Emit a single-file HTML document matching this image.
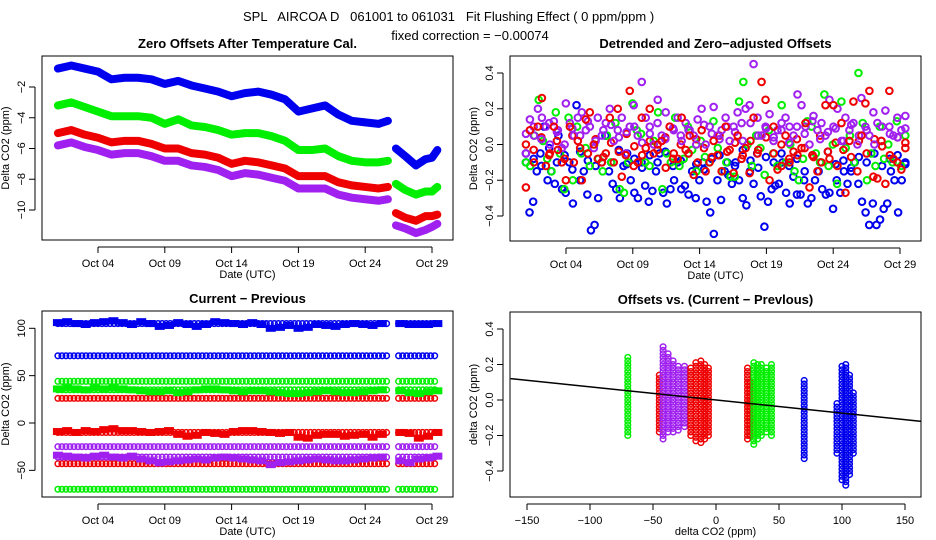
<!DOCTYPE html>
<html><head><meta charset="utf-8"><style>
html,body{margin:0;padding:0;background:#fff;}
svg{display:block;font-family:"Liberation Sans",sans-serif;}
text{white-space:pre;}
</style></head><body>
<svg id="chart" width="936" height="540" xmlns="http://www.w3.org/2000/svg">
<rect width="936" height="540" fill="#fff"/>
<text x="243" y="21" font-size="13" xml:space="preserve">SPL   AIRCOA D   061001 to 061031   Fit Flushing Effect ( 0 ppm/ppm )</text>
<text x="470" y="40" font-size="13" text-anchor="middle">fixed correction = −0.00074</text>
<g id="plots"></g>
</svg>
<script>
// ---------- DATA ----------
const days1 = [1,2,3,4,5,6,7,8,9,10,11,12,13,14,15,16,17,18,19,20,21,22,23,24,25,25.7];
const days2 = [26.3,27,27.8,28.5,29,29.4];
const blueTrend1 = [-0.8,-0.6,-0.8,-1.0,-1.5,-1.4,-1.4,-1.5,-1.8,-1.6,-1.9,-2.1,-2.3,-2.6,-2.4,-2.3,-2.5,-2.8,-3.6,-3.4,-3.2,-3.8,-4.2,-4.3,-4.4,-4.2];
const blueTrend2 = [-6.0,-6.5,-7.1,-6.7,-6.6,-6.1];
const greenTrend1 = [-3.2,-3.0,-3.3,-3.6,-3.9,-3.9,-3.9,-4.0,-4.4,-4.1,-4.5,-4.6,-4.8,-5.1,-5.0,-5.0,-5.2,-5.5,-6.1,-6.1,-6.0,-6.5,-6.8,-6.9,-6.9,-6.8];
const greenTrend2 = [-8.3,-8.7,-9.0,-8.8,-8.8,-8.5];
const redTrend1 = [-5.0,-4.8,-5.1,-5.3,-5.6,-5.5,-5.5,-5.7,-6.0,-6.0,-6.3,-6.4,-6.6,-7.0,-6.8,-6.9,-7.1,-7.3,-7.8,-7.8,-7.8,-8.2,-8.4,-8.5,-8.6,-8.5];
const redTrend2 = [-10.2,-10.5,-10.7,-10.4,-10.4,-10.3];
const purpleTrend1 = [-5.8,-5.6,-5.9,-6.1,-6.4,-6.3,-6.3,-6.5,-6.8,-6.8,-7.1,-7.2,-7.4,-7.8,-7.6,-7.7,-7.9,-8.1,-8.6,-8.6,-8.6,-9.0,-9.2,-9.3,-9.4,-9.3];
const purpleTrend2 = [-11.0,-11.2,-11.5,-11.3,-11.1,-10.9];

const detBlue = [-0.1,-0.38,-0.32,-0.15,-0.05,0.1,-0.2,-0.15,-0.22,0.05,-0.25,-0.27,-0.1,-0.33,0.22,-0.2,-0.15,-0.28,-0.48,-0.45,-0.3,-0.1,0.05,-0.15,-0.22,-0.25,-0.3,-0.12,-0.05,-0.2,-0.27,-0.3,-0.1,-0.23,-0.32,-0.26,-0.15,-0.05,-0.27,-0.33,-0.25,-0.2,-0.1,-0.25,-0.23,-0.28,-0.15,-0.3,-0.2,-0.1,-0.32,-0.38,-0.5,-0.2,-0.31,-0.15,-0.17,-0.22,-0.1,-0.2,-0.3,-0.34,-0.15,-0.22,-0.05,-0.29,-0.46,-0.32,-0.25,-0.23,-0.22,-0.1,-0.27,-0.33,-0.18,-0.28,-0.28,-0.2,-0.33,-0.3,-0.2,-0.15,-0.25,-0.28,-0.27,-0.36,-0.2,-0.27,-0.15,-0.22,-0.15,-0.1,-0.22,-0.32,-0.38,-0.45,-0.33,-0.45,-0.42,-0.36,-0.33,-0.15,-0.2,-0.38,-0.2,-0.1];
const detBlue2 = [-0.05,-0.08,-0.12,-0.02,-0.1,-0.06,-0.14,-0.04,-0.09,-0.12,-0.07,-0.1,-0.03,-0.11,-0.08,-0.13,-0.06,-0.1,-0.04,-0.12,-0.09,-0.05,-0.11,-0.14,-0.08,-0.06,-0.1,-0.12,-0.03,-0.09,-0.13,-0.07,-0.1,-0.05,-0.12,-0.08,-0.15,-0.06,-0.1,-0.04,-0.11,-0.09,-0.13,-0.07,-0.1,-0.05,-0.12,-0.08,-0.06,-0.11];
const detGreen = [-0.1,-0.12,0.05,0.25,0.02,-0.08,-0.15,0.18,-0.05,-0.25,0.15,-0.2,0.1,-0.05,-0.02,-0.12,0.0,-0.08,-0.15,0.05,-0.1,0.12,-0.25,-0.27,-0.1,0.23,0.08,0.06,-0.1,-0.12,0.02,0.18,-0.25,-0.05,-0.1,0.15,-0.12,-0.08,0.1,-0.03,-0.15,0.02,-0.07,-0.1,0.13,-0.02,-0.15,-0.1,-0.18,-0.18,0.24,0.35,0.0,-0.12,0.05,-0.02,-0.17,0.08,-0.05,-0.12,0.22,-0.1,0.0,-0.15,-0.2,-0.08,0.13,0.1,-0.05,-0.1,0.28,-0.12,0.0,-0.22,0.24,-0.02,0.05,-0.1,0.4,0.12,-0.2,-0.05,-0.12,0.1,-0.08,0.0,-0.1,0.13,-0.12,0.05];
const detRed = [-0.24,0.08,-0.1,0.1,0.26,-0.12,-0.05,0.1,-0.03,-0.1,-0.2,0.1,-0.1,0.02,-0.2,0.14,0.18,0.0,-0.08,-0.1,-0.05,0.15,-0.1,0.2,-0.18,-0.06,0.3,-0.12,-0.1,0.15,-0.02,0.2,-0.05,0.0,0.02,-0.13,0.1,-0.05,-0.08,0.15,-0.03,0.05,-0.17,-0.1,0.08,-0.15,-0.1,0.02,-0.06,-0.15,0.1,-0.03,-0.16,0.05,-0.08,-0.02,-0.16,0.15,-0.05,0.35,0.25,-0.2,0.1,-0.14,-0.12,0.05,-0.1,-0.04,-0.06,-0.02,0.12,-0.24,-0.07,-0.15,-0.1,0.22,-0.08,0.22,-0.12,0.12,-0.27,0.02,0.24,-0.15,0.05,0.23,0.3,-0.18,-0.19,0.02,-0.22,0.3,-0.08,-0.1,-0.14,0.01];
const detRed2 = [0.0,-0.03,0.04,-0.06,0.02,-0.08,0.05,-0.02,-0.05,0.03,-0.07,0.01,-0.04,0.06,-0.01,-0.06,0.02,-0.03,0.04,-0.08,0.0,-0.05,0.03,-0.02,-0.07,0.05,-0.04,0.01,-0.06,0.02,-0.03,0.04,-0.05,0.0,-0.08,0.03,-0.02,-0.06,0.05,-0.04,0.01,-0.03,-0.07,0.02,-0.05,0.03,-0.01,-0.06,0.04,-0.02];
const detPurple = [-0.05,0.14,0.05,0.2,0.15,0.1,0.0,0.13,0.08,-0.02,0.23,0.12,0.05,0.15,0.18,0.08,0.1,-0.02,0.15,0.05,0.12,0.2,0.02,0.08,0.15,-0.05,0.1,0.22,0.05,0.35,0.15,0.1,0.0,0.25,0.05,0.18,0.1,0.08,0.15,0.02,0.12,0.08,0.05,0.14,0.2,0.0,0.1,0.21,0.05,0.08,0.15,0.02,0.1,0.18,0.12,0.2,0.22,0.45,0.15,0.05,0.1,0.17,0.02,0.08,0.12,0.15,0.1,0.05,0.28,0.22,0.1,0.0,0.16,0.08,0.12,0.05,0.25,0.1,0.2,0.02,0.15,0.08,0.12,0.0,0.26,0.1,0.05,0.18,0.12,0.02,0.19,0.1,0.05,0.15,0.08,0.16];
const detPurple2 = [0.06,0.1,0.03,0.12,0.07,0.0,0.09,0.05,0.13,0.02,0.08,0.11,0.04,0.07,0.1,0.01,0.06,0.12,0.03,0.09,0.05,0.08,0.0,0.11,0.06,0.03,0.1,0.07,0.02,0.12,0.05,0.09,0.04,0.08,0.01,0.1,0.06,0.13,0.03,0.07,0.09,0.02,0.11,0.05,0.08,0.0,0.1,0.06,0.04,0.09];

const cpLevelsBlue = [105,71];
const cpLevelsGreen = [44,35,-70];
const cpLevelsRed = [26,-10,-43];
const cpLevelsPurple = [-25,-36];
const cpNoiseBlue = [106,107,105,104,106,107,108,106,104,107,105,102,103,106,104,102,104,107,106,105,104,106,104,100,101,103,100,101,104,103,102,104,105,104,103,105,102,105,104,104,104,105];
const cpNoiseRed = [-9,-8,-10,-8,-9,-7,-6,-8,-8,-9,-10,-9,-8,-12,-14,-13,-10,-11,-12,-9,-8,-8,-9,-10,-11,-10,-15,-16,-13,-12,-12,-14,-13,-12,-15,-12,-11,-10,-11,-16,-14,-10];
const cpNoiseGreen = [36,37,36,35,37,36,37,36,35,34,33,33,34,32,33,35,36,36,35,34,33,34,34,33,32,31,31,32,33,34,33,32,32,33,34,35,33,34,32,31,33,34];
const cpNoisePurple = [-34,-35,-36,-37,-35,-34,-36,-37,-35,-38,-40,-42,-41,-40,-39,-38,-39,-37,-36,-37,-38,-39,-40,-44,-42,-41,-40,-39,-38,-39,-40,-40,-39,-38,-37,-36,-38,-40,-42,-38,-37,-35];

const colX = [-70,-45,-42,-38,-34,-30,-25,-20,-16,-12,-9,-6,25,27,30,33,36,40,44,70,96,100,103,106,109];
const colLow = [-0.2,-0.18,-0.22,-0.18,-0.18,-0.17,-0.15,-0.2,-0.23,-0.24,-0.22,-0.2,-0.22,-0.2,-0.25,-0.22,-0.2,-0.18,-0.2,-0.33,-0.3,-0.45,-0.48,-0.42,-0.3];
const colHigh = [0.25,0.15,0.3,0.27,0.23,0.2,0.2,0.18,0.22,0.23,0.2,0.18,0.18,0.1,0.22,0.2,0.2,0.18,0.21,0.12,0.0,0.2,0.22,0.15,0.05];
const colColor = ["#00ee00","#ee0000","#a020f0","#a020f0","#a020f0","#a020f0","#a020f0","#ee0000","#ee0000","#ee0000","#ee0000","#ee0000","#ee0000","#ee0000","#00ee00","#00ee00","#00ee00","#00ee00","#00ee00","#0000ee","#0000ee","#0000ee","#0000ee","#0000ee","#0000ee"];
const fitSlope = -0.00074;
const fitIntercept = 0.0;

const xDateTicks = [4,9,14,19,24,29];
const xDateLabels = ["Oct 04","Oct 09","Oct 14","Oct 19","Oct 24","Oct 29"];
const yTicksTL = [-2,-4,-6,-8,-10];
const yTicksTR = [0.4,0.2,0.0,-0.2,-0.4];
const yTicksBL = [100,50,0,-50];
const xTicksBR = [-150,-100,-50,0,50,100,150];
const yTicksBR = [0.4,0.2,0.0,-0.2,-0.4];

// ---------- DRAW ----------
const NS="http://www.w3.org/2000/svg";
const root=document.getElementById('plots');
const BLUE="#0000ee",GREEN="#00ee00",RED="#ee0000",PURPLE="#a020f0";
function mk(tag,attrs,parent){const e=document.createElementNS(NS,tag);for(const k in attrs)e.setAttribute(k,attrs[k]);(parent||root).appendChild(e);return e;}
function txt(x,y,s,size,extra,parent){const t=mk('text',Object.assign({x:x,y:y,'font-size':size},extra||{}),parent);t.textContent=s;return t;}

function panel(name,box,title,xlab,ylab){
  const g=mk('g',{});
  
  
  const r=mk('rect',{x:box.x0,y:box.y0,width:box.x1-box.x0,height:box.y1-box.y0,fill:'none',stroke:'#000','stroke-width':1},g);
  
  
  const t=txt((box.x0+box.x1)/2,box.y0-8,title,13,{'font-weight':'bold','text-anchor':'middle'},g);
  
  
  const xl=txt((box.x0+box.x1)/2,box.y1+38,xlab,11,{'text-anchor':'middle'},g);
  
  
  const cy=(box.y0+box.y1)/2;
  const yl=txt(0,0,ylab,11,{'text-anchor':'middle',transform:`translate(${box.x0-33},${cy}) rotate(-90)`},g);
  
  
  return g;
}
function xAxis(g,box,vals,labels,sx){
  const first=sx(vals[0]),last=sx(vals[vals.length-1]);
  const l=mk('line',{x1:first,x2:last,y1:box.y1+7,y2:box.y1+7,stroke:'#000'},g);
  
  
  vals.forEach((v,i)=>{const x=sx(v);
    mk('line',{x1:x,x2:x,y1:box.y1+7,y2:box.y1+13,stroke:'#000'},g);
    const t=txt(x,box.y1+27,labels[i],11,{'text-anchor':'middle'},g);
    
    });
}
function yAxis(g,box,vals,sy,fmt){
  const l=mk('line',{x1:box.x0-7,x2:box.x0-7,y1:sy(vals[0]),y2:sy(vals[vals.length-1]),stroke:'#000'},g);
  
  
  vals.forEach(v=>{const y=sy(v);
    mk('line',{x1:box.x0-13,x2:box.x0-7,y1:y,y2:y,stroke:'#000'},g);
    const t=txt(0,0,fmt(v),11,{'text-anchor':'middle',transform:`translate(${box.x0-17},${y}) rotate(-90)`},g);
    
    });
}
function circ(g,x,y,c,name,r,w){const e=mk('circle',{cx:x,cy:y,r:r||2.8,fill:'none',stroke:c,'stroke-width':w||1.5},g);
  
  return e;}
const neg=s=>s.replace('-','−');
const fmt1=v=>neg(v.toFixed(1));
const fmt0=v=>neg(String(v));

// Panel TL
const bTL={x0:42,x1:453,y0:56,y1:240};
const sxTL=d=>42+56+(d-4)*13.36;
const syTL=v=>87-(v+2)*15.375;
const gTL=panel('zero-offsets-panel',bTL,'Zero Offsets After Temperature Cal.','Date (UTC)','Delta CO2 (ppm)');
xAxis(gTL,bTL,xDateTicks,xDateLabels,sxTL);
yAxis(gTL,bTL,yTicksTL,syTL,fmt0);
function band(g,days,vals,c,name){
  const pts=days.map((d,i)=>sxTL(d)+','+syTL(vals[i])).join(' ');
  const p=mk('polyline',{points:pts,fill:'none',stroke:c,'stroke-width':8,'stroke-linejoin':'round','stroke-linecap':'round'},g);
  
  
}
band(gTL,days1,purpleTrend1,PURPLE,'purple-offset-series');band(gTL,days2,purpleTrend2,PURPLE,'purple-offset-series');
band(gTL,days1,redTrend1,RED,'red-offset-series');band(gTL,days2,redTrend2,RED,'red-offset-series');
band(gTL,days1,greenTrend1,GREEN,'green-offset-series');band(gTL,days2,greenTrend2,GREEN,'green-offset-series');
band(gTL,days1,blueTrend1,BLUE,'blue-offset-series');band(gTL,days2,blueTrend2,BLUE,'blue-offset-series');

// Panel TR
const bTR={x0:510,x1:921,y0:56,y1:241};
const sxTR=d=>510+56+(d-4)*13.36;
const syTR=v=>144.5-v*178.75;
const gTR=panel('detrended-offsets-panel',bTR,'Detrended and Zero−adjusted Offsets','Date (UTC)','Delta CO2 (ppm)');
xAxis(gTR,bTR,xDateTicks,xDateLabels,sxTR);
yAxis(gTR,bTR,yTicksTR,syTR,fmt1);
function scat(arr,c,name){const n=arr.length;arr.forEach((v,i)=>{const d=1+i*(28.4/(n-1));circ(gTR,sxTR(d),syTR(v),c,name,3.3,2);});}
scat(detBlue,BLUE,'blue-detrended-point');
scat(detBlue2,BLUE,'blue-detrended-point');
scat(detGreen,GREEN,'green-detrended-point');
scat(detRed2,RED,'red-detrended-point');
scat(detPurple,PURPLE,'purple-detrended-point');
scat(detPurple2,PURPLE,'purple-detrended-point');
scat(detRed,RED,'red-detrended-point');

// Panel BL
const bBL={x0:42,x1:453,y0:311,y1:497};
const sxBL=d=>42+56+(d-4)*13.36;
const syBL=v=>423-v*0.947;
const gBL=panel('current-minus-previous-panel',bBL,'Current − Previous','Date (UTC)','Delta CO2 (ppm)');
xAxis(gBL,bBL,xDateTicks,xDateLabels,sxBL);
yAxis(gBL,bBL,yTicksBL,syBL,fmt0);
function rowLevel(v,c,name){for(let d=1;d<=29.4;d+=0.3){if(d>25.7&&d<26.3)continue;circ(gBL,sxBL(d),syBL(v),c,name);}}
function rowNoise(arr,c,name){const n=arr.length;arr.forEach((v,i)=>{const d=1+i*(28.4/(n-1));if(d>25.7&&d<26.3)return;
  const p=mk('rect',{x:sxBL(d)-5,y:syBL(v)-3.5,width:10,height:7,fill:c},gBL);
  
  });}
cpLevelsGreen.forEach(v=>rowLevel(v,GREEN,'green-level-point'));
cpLevelsRed.forEach(v=>rowLevel(v,RED,'red-level-point'));
cpLevelsPurple.forEach(v=>rowLevel(v,PURPLE,'purple-level-point'));
cpLevelsBlue.forEach(v=>rowLevel(v,BLUE,'blue-level-point'));
rowNoise(cpNoiseGreen,GREEN,'green-noisy-point');
rowNoise(cpNoiseRed,RED,'red-noisy-point');
rowNoise(cpNoisePurple,PURPLE,'purple-noisy-point');
rowNoise(cpNoiseBlue,BLUE,'blue-noisy-point');

// Panel BR
const bBR={x0:510,x1:921,y0:312,y1:497};
const sxBR=v=>716+v*1.26;
const syBR=v=>400-v*177.5;
const gBR=panel('offsets-vs-difference-panel',bBR,'Offsets vs. (Current − Prevlous)','delta CO2 (ppm)','delta CO2 (ppm)');
xAxis(gBR,bBR,xTicksBR,xTicksBR.map(String).map(neg),sxBR);
yAxis(gBR,bBR,yTicksBR,syBR,fmt1);
colX.forEach((x,i)=>{for(let y=colLow[i];y<=colHigh[i];y+=0.02){circ(gBR,sxBR(x),syBR(y),colColor[i],'difference-scatter-point');}});
const fit=mk('line',{x1:sxBR(-163),y1:syBR(fitIntercept+fitSlope*-163),x2:sxBR(163),y2:syBR(fitIntercept+fitSlope*163),stroke:'#000','stroke-width':1.5},gBR);


</script>
</body></html>
